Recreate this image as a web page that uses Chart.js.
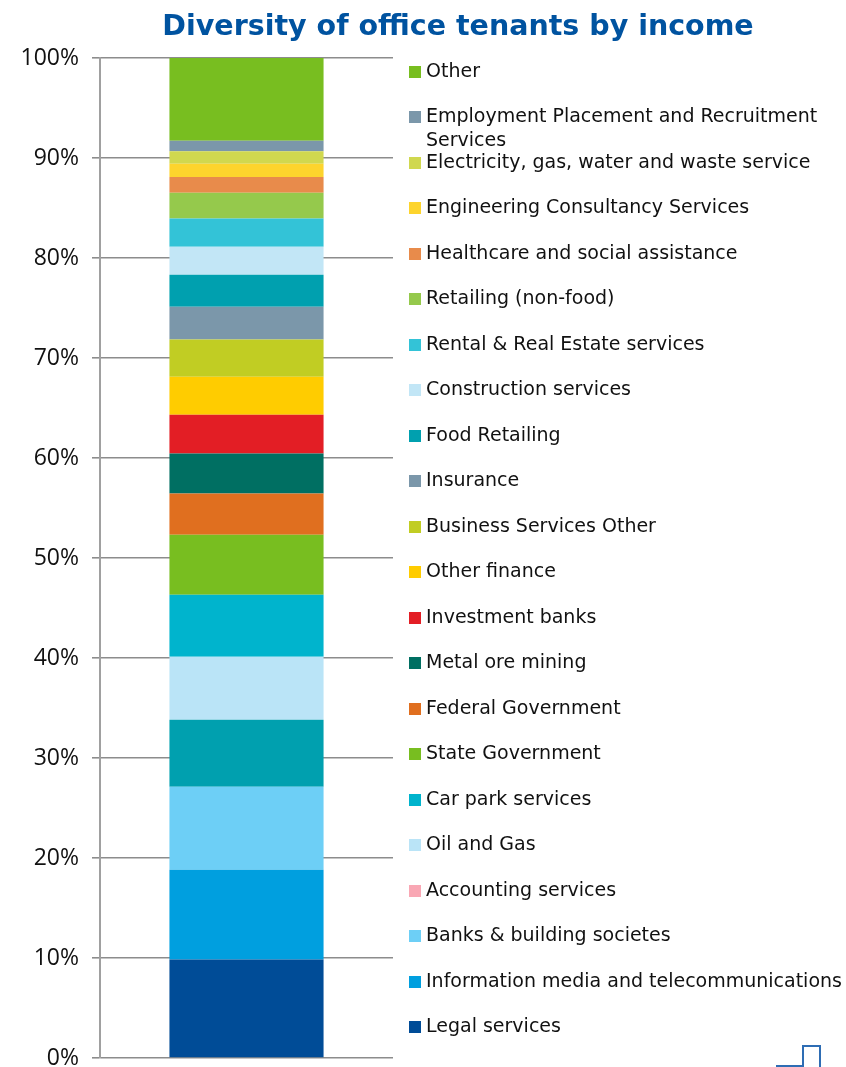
<!DOCTYPE html>
<html>
<head>
<meta charset="utf-8">
<script src="https://cdn.jsdelivr.net/npm/chart.js@4/dist/chart.umd.min.js"></script>
<style>
  html, body { margin: 0; padding: 0; background: #ffffff; }
  #wrap { position: relative; width: 846px; height: 1067px; }
</style>
</head>
<body>
<div id="wrap"><canvas id="chart"></canvas></div>
<script>
// Tenant categories, stacked bottom to top
const sectors = [
  "Legal services",
  "Information media and telecommunications",
  "Banks & building societes",
  "Accounting services",
  "Oil and Gas",
  "Car park services",
  "State Government",
  "Federal Government",
  "Metal ore mining",
  "Investment banks",
  "Other finance",
  "Business Services Other",
  "Insurance",
  "Food Retailing",
  "Construction services",
  "Rental & Real Estate services",
  "Retailing (non-food)",
  "Healthcare and social assistance",
  "Engineering Consultancy Services",
  "Electricity, gas, water and waste service",
  "Employment Placement and Recruitment Services",
  "Other"
];

// Share of income (%) for each sector, same order
const incomeShare = [
  9.86, 8.97, 8.30, 6.70, 6.30, 6.20, 6.00, 4.13, 4.00, 3.87, 3.80,
  3.73, 3.26, 3.21, 2.80, 2.83, 2.57, 1.57, 1.33, 1.25, 1.05, 8.27
];

// Fill colour of each segment
const segmentColors = [
  "#004C97", "#009FDF", "#6DCFF6", "#00A0AF", "#BAE4F7", "#00B4CD",
  "#78BE20", "#E06F1F", "#006F62", "#E31E25", "#FFCC00", "#C1CD23",
  "#7B97AA", "#00A0AF", "#C2E6F6", "#33C3D7", "#95C94C", "#E88B4B",
  "#FDD42D", "#D0D84F", "#7B97AA", "#78BE20"
];

// Legend swatch colours (the accounting key uses its own pink)
const swatchColors = segmentColors.slice();
swatchColors[3] = "#F9A7B4";

const categories = [""];
const yTicks = [0, 10, 20, 30, 40, 50, 60, 70, 80, 90, 100];

const titleText = "Diversity of office tenants by income";

const datasets = sectors.map((name, i) => ({
  label: name,
  data: [incomeShare[i]],
  backgroundColor: segmentColors[i],
  borderWidth: 0,
  categoryPercentage: 1.0,
  barPercentage: 0.526
}));

// Title, right-hand key and corner mark
const decorations = {
  id: "decorations",
  afterDraw(chart) {
    const ctx = chart.ctx;
    ctx.save();

    // title
    ctx.fillStyle = "#0053A0";
    ctx.font = "bold 28.5px 'DejaVu Sans', sans-serif";
    ctx.textAlign = "center";
    ctx.textBaseline = "middle";
    ctx.fillText(titleText, 458, 28);

    // key, listed top to bottom
    ctx.font = "19px 'DejaVu Sans', sans-serif";
    ctx.textAlign = "left";
    ctx.textBaseline = "middle";
    const n = sectors.length;
    const top = 72, step = 45.48, textX = 426, maxW = 846 - textX - 2;
    for (let k = 0; k < n; k++) {
      const i = n - 1 - k;
      const cy = top + k * step;
      ctx.fillStyle = swatchColors[i];
      ctx.fillRect(409, Math.round(cy - 6), 12, 12);
      ctx.fillStyle = "#111111";
      // wrap long names onto a second line
      const words = sectors[i].split(" ");
      const lines = [];
      let cur = "";
      for (const w of words) {
        const test = cur ? cur + " " + w : w;
        if (ctx.measureText(test).width > maxW && cur) {
          lines.push(cur);
          cur = w;
        } else {
          cur = test;
        }
      }
      lines.push(cur);
      lines.forEach((ln, j) => ctx.fillText(ln, textX, cy + j * 24));
    }

    // small step mark in the corner
    ctx.strokeStyle = "#2E6DB4";
    ctx.lineWidth = 2;
    ctx.beginPath();
    ctx.moveTo(776, 1066);
    ctx.lineTo(803, 1066);
    ctx.lineTo(803, 1046);
    ctx.lineTo(820, 1046);
    ctx.lineTo(820, 1067);
    ctx.stroke();

    ctx.restore();
  }
};

new Chart(document.getElementById("chart"), {
  type: "bar",
  data: { labels: categories, datasets },
  options: {
    responsive: true,
    maintainAspectRatio: false,
    animation: false,
    layout: { padding: { top: 58, right: 453, bottom: 9, left: 0 } },
    plugins: {
      legend: { display: false },
      title: { display: false },
      tooltip: { enabled: false }
    },
    scales: {
      x: {
        stacked: true,
        display: false
      },
      y: {
        stacked: true,
        min: 0,
        max: 100,
        afterBuildTicks(scale) {
          scale.ticks = yTicks.map(v => ({ value: v }));
        },
        afterFit(scale) {
          scale.width = 100;
          scale.paddingTop = 0;
          scale.paddingBottom = 0;
        },
        ticks: {
          padding: 13,
          color: "#111111",
          font: { family: "'Open Sans', sans-serif", size: 23 },
          callback: v => v + "%"
        },
        grid: {
          color: "#8C8C8C",
          lineWidth: 1.6,
          tickLength: 8,
          drawTicks: true
        },
        border: { display: true, color: "#A0A0A0", width: 2 }
      }
    }
  },
  plugins: [decorations]
});
</script>
</body>
</html>
